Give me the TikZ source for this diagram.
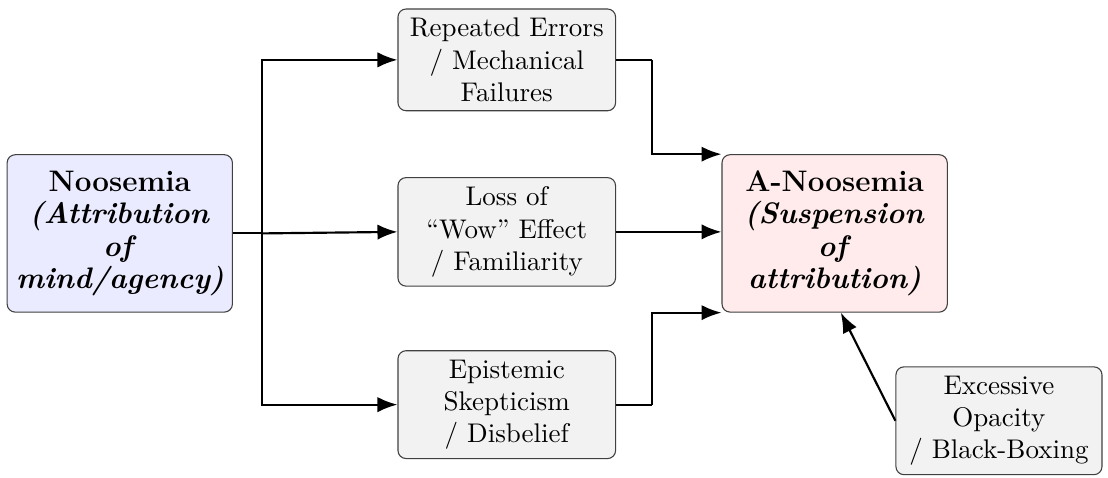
\documentclass[tikz,border=0pt]{standalone}
\usetikzlibrary{arrows.meta}

\begin{document}
\begin{tikzpicture}[
    mainbox/.style={draw=black!75, rounded corners=3pt, align=center, text width=2.7cm, minimum height=2.05cm, inner sep=3.33pt, font=\fontsize{11}{12}\selectfont\bfseries},
    stagebox/.style={draw=black!75, fill=gray!10, rounded corners=3pt, align=center, text width=2.6cm, inner sep=3.33pt},
    flow/.style={-{Latex[length=2.6mm, width=2mm]}, thick}
]
    \useasboundingbox (0,0) rectangle (14.43,6.22);

    % Start and end states
    \node[mainbox, fill=blue!8] (noo) at (1.56,3.18) {Noosemia\\ \textit{(Attribution}\\ \textit{of}\\ \textit{mind/agency)}};
    \node[mainbox, fill=red!8] (anoo) at (10.87,3.18) {A-Noosemia\\ \textit{(Suspension}\\ \textit{of}\\ \textit{attribution)}};

    % Triggers
    \node[stagebox] (err) at (6.60,5.44) {Repeated Errors\\ / Mechanical\\ Failures};
    \node[stagebox] (wow) at (6.60,3.20) {Loss of\\ ``Wow'' Effect\\ / Familiarity};
    \node[stagebox] (skep) at (6.60,0.95) {Epistemic\\ Skepticism\\ / Disbelief};
    \node[stagebox, text width=2.45cm] (opac) at (13.01,0.74) {Excessive\\ Opacity\\ / Black-Boxing};

    % Branching from Noosemia
    \coordinate (split) at (3.41,3.18);
    \draw[thick] (noo.east) -- (split);
    \draw[flow] (split) |- (err.west);
    \draw[flow] (split) -- (wow.west);
    \draw[flow] (split) |- (skep.west);

    % Joining into A-Noosemia
    \coordinate (jointop) at (8.49,5.44);
    \coordinate (joinbot) at (8.49,0.95);
    \draw[thick] (err.east) -- (jointop);
    \draw[flow] (jointop) |- (anoo.north west);
    \draw[flow] (wow.east) -- (wow.east -| anoo.west);
    \draw[thick] (skep.east) -- (joinbot);
    \draw[flow] (joinbot) |- (anoo.south west);
    \draw[flow] (opac.west) -- ([xshift=0.8mm]anoo.south);

\end{tikzpicture}
\end{document}
